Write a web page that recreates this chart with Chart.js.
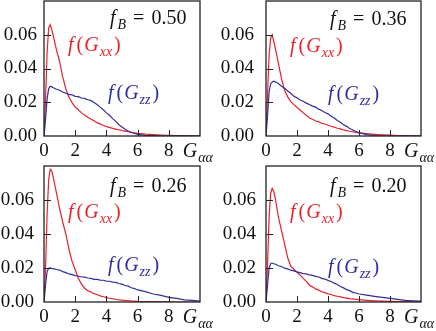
<!DOCTYPE html>
<html>
<head>
<meta charset="utf-8">
<script src="https://cdn.jsdelivr.net/npm/chart.js@4.4.1/dist/chart.umd.min.js"></script>
<style>
  html, body { margin: 0; padding: 0; background: #fff; }
  #wrap { position: relative; width: 436px; height: 331px; overflow: hidden; }
  canvas { position: absolute; }
</style>
</head>
<body>
<div id="wrap">
  <canvas id="c0" width="218" height="166" style="left:0;top:0"></canvas>
  <canvas id="c1" width="218" height="166" style="left:218px;top:0"></canvas>
  <canvas id="c2" width="218" height="166" style="left:0;top:165px"></canvas>
  <canvas id="c3" width="218" height="166" style="left:218px;top:165px"></canvas>
</div>
<script>
// G_alpha_alpha grid (shared by all panels)
const gValues = [0, 0.1, 0.2, 0.3, 0.4, 0.5, 0.6, 0.8, 1.0, 1.2, 1.4, 1.6, 1.8, 2.0, 2.2, 2.4, 2.6, 2.8, 3.0,
  3.2, 3.4, 3.6, 3.8, 4.0, 4.2, 4.4, 4.6, 4.8, 5.0, 5.2, 5.4, 5.6, 5.8, 6.0, 6.5, 7.0, 7.5, 8.0, 8.5, 9.0, 9.5, 10.0];

// f(G_xx) and f(G_zz) for each f_B
const xx50 = [0, 0.022, 0.050, 0.064, 0.066, 0.063, 0.059, 0.051, 0.044, 0.035, 0.028, 0.023, 0.0198, 0.0172,
  0.0156, 0.0137, 0.0125, 0.0111, 0.0101, 0.0091, 0.0079, 0.0072, 0.0062, 0.0056, 0.0051, 0.0045, 0.0041,
  0.0037, 0.0032, 0.0029, 0.0025, 0.0022, 0.0019, 0.0016, 0.0011, 0.0008, 0.0006, 0.0004, 0.0003, 0.0002, 0.0001, 0.0001];
const zz50 = [0, 0.010, 0.022, 0.028, 0.0295, 0.0291, 0.0286, 0.0277, 0.0271, 0.0261, 0.0253, 0.0247, 0.0244,
  0.0235, 0.0233, 0.0225, 0.0223, 0.0215, 0.0211, 0.0199, 0.0187, 0.0171, 0.0156, 0.0137, 0.0123, 0.0103,
  0.0087, 0.0067, 0.0053, 0.0040, 0.0030, 0.0022, 0.0015, 0.0010, 0.0004, 0.0002, 0.0001, 0, 0, 0, 0, 0];

const xx36 = [0, 0.025, 0.048, 0.058, 0.060, 0.056, 0.052, 0.043, 0.034, 0.027, 0.0232, 0.0204, 0.0186, 0.0169,
  0.0154, 0.0137, 0.0123, 0.0107, 0.0099, 0.0089, 0.0084, 0.0075, 0.0071, 0.0064, 0.0058, 0.0053, 0.0046,
  0.0042, 0.0036, 0.0032, 0.0028, 0.0025, 0.0022, 0.0019, 0.0014, 0.0010, 0.0007, 0.0005, 0.0003, 0.0002, 0.0001, 0.0001];
const zz36 = [0, 0.012, 0.026, 0.031, 0.032, 0.0325, 0.0321, 0.0311, 0.0294, 0.0283, 0.0267, 0.0253, 0.0235,
  0.0226, 0.0213, 0.0206, 0.0195, 0.0187, 0.0177, 0.0171, 0.0159, 0.0151, 0.0139, 0.0131, 0.0117, 0.0107,
  0.0092, 0.0081, 0.0067, 0.0057, 0.0044, 0.0036, 0.0027, 0.0020, 0.0008, 0.0003, 0.0001, 0, 0, 0, 0, 0];

const xx26 = [0, 0.020, 0.052, 0.072, 0.078, 0.077, 0.073, 0.064, 0.055, 0.047, 0.040, 0.031, 0.024, 0.019,
  0.014, 0.0105, 0.0081, 0.0067, 0.0059, 0.0049, 0.0044, 0.0036, 0.0031, 0.0026, 0.0022, 0.0019, 0.0016,
  0.0013, 0.0011, 0.0009, 0.0008, 0.0006, 0.0005, 0.0004, 0.0003, 0.0002, 0.0001, 0.0001, 0, 0, 0, 0];
const zz26 = [0, 0.010, 0.018, 0.0198, 0.0201, 0.0197, 0.0196, 0.0191, 0.0188, 0.0179, 0.0173, 0.0165, 0.0161,
  0.0155, 0.0153, 0.0147, 0.0146, 0.0141, 0.0139, 0.0133, 0.0133, 0.0129, 0.0128, 0.0123, 0.0122, 0.0117,
  0.0115, 0.0109, 0.0105, 0.0097, 0.0093, 0.0084, 0.0079, 0.0071, 0.0061, 0.0047, 0.0039, 0.0027, 0.0021,
  0.0013, 0.0009, 0.0006];

const xx20 = [0, 0.022, 0.050, 0.064, 0.0668, 0.065, 0.061, 0.050, 0.042, 0.034, 0.026, 0.021, 0.0193, 0.0175,
  0.0159, 0.0139, 0.0121, 0.0099, 0.0089, 0.0077, 0.0070, 0.0060, 0.0055, 0.0048, 0.0044, 0.0037, 0.0034,
  0.0030, 0.0026, 0.0023, 0.0020, 0.0018, 0.0016, 0.0014, 0.0010, 0.0007, 0.0005, 0.0004, 0.0003, 0.0002, 0.0001, 0.0001];
const zz20 = [0, 0.010, 0.020, 0.0225, 0.0229, 0.0225, 0.0223, 0.0213, 0.0209, 0.0199, 0.0195, 0.0187, 0.0183,
  0.0177, 0.0173, 0.0167, 0.0165, 0.0159, 0.0157, 0.0151, 0.0147, 0.0139, 0.0135, 0.0127, 0.0121, 0.0111,
  0.0103, 0.0091, 0.0083, 0.0073, 0.0067, 0.0057, 0.0053, 0.0047, 0.0040, 0.0033, 0.0027, 0.0021, 0.0015,
  0.0010, 0.0007, 0.0005];

// tick labels and panel titles
const xTickValues = [0, 2, 4, 6, 8];
const yTickValues = [0, 0.02, 0.04, 0.06];
const fBLabels = ['0.50', '0.36', '0.26', '0.20'];

const RED = '#e8212b';
const BLUE = '#2e2e9c';
const FONT = '"Liberation Serif", "DejaVu Serif", serif';
const SIZE = 19;
const MATH = 20;
const SUB = 14;

// layout of each panel: axis sizes and label anchors (in data units)
const panels = [
  { id: 'c0', xx: xx50, zz: zz50, yW: 44, xH: 30, padR: 18, tickPad: 7,
    fB: [4.23, 0.0663], lxx: [1.54, 0.0506], lzz: [4.1, 0.0218] },
  { id: 'c1', xx: xx36, zz: zz36, yW: 48, xH: 30, padR: 15, tickPad: 12,
    fB: [4.13, 0.0659], lxx: [1.55, 0.0496], lzz: [4.0, 0.0212] },
  { id: 'c2', xx: xx26, zz: zz26, yW: 44, xH: 29, padR: 18, tickPad: 10,
    fB: [4.23, 0.0649], lxx: [1.54, 0.0494], lzz: [4.1, 0.0182] },
  { id: 'c3', xx: xx20, zz: zz20, yW: 48, xH: 29, padR: 15, tickPad: 10,
    fB: [4.13, 0.0649], lxx: [1.55, 0.0494], lzz: [4.0, 0.0171] }
];

// draw italic / subscript pieces one after another
function drawMath(ctx, x, y, parts, color, size) {
  ctx.save();
  ctx.fillStyle = color;
  ctx.textBaseline = 'alphabetic';
  ctx.textAlign = 'left';
  let cx = x;
  parts.forEach(p => {
    const s = p.sub ? SUB : size;
    ctx.font = (p.it ? 'italic ' : '') + s + 'px ' + FONT;
    ctx.fillText(p.t, cx, y + (p.sub ? 5 : 0));
    cx += ctx.measureText(p.t).width + (p.gap || 0);
  });
  ctx.restore();
}

const framePlugin = {
  id: 'frame',
  afterDraw(chart, args, opts) {
    const { ctx, chartArea: a, scales: { x, y } } = chart;
    ctx.save();
    ctx.strokeStyle = '#222';
    ctx.lineWidth = 1.3;
    ctx.strokeRect(a.left, a.top, a.right - a.left, a.bottom - a.top);
    // inward tick marks
    ctx.beginPath();
    xTickValues.slice(1).forEach(v => {
      const px = Math.round(x.getPixelForValue(v)) + 0.5;
      ctx.moveTo(px, a.bottom);
      ctx.lineTo(px, a.bottom - 6);
    });
    yTickValues.slice(1).forEach(v => {
      const py = Math.round(y.getPixelForValue(v)) + 0.5;
      ctx.moveTo(a.left, py);
      ctx.lineTo(a.left + 7, py);
    });
    ctx.lineWidth = 1;
    ctx.stroke();
    ctx.restore();

    const p = opts.panel;
    drawMath(ctx, x.getPixelForValue(p.fB[0]), y.getPixelForValue(p.fB[1]), [
      { t: 'f', it: true, gap: 2 }, { t: 'B', it: true, sub: true, gap: 7 },
      { t: '=', gap: 7 }, { t: p.label }
    ], '#111', MATH);
    drawMath(ctx, x.getPixelForValue(p.lxx[0]), y.getPixelForValue(p.lxx[1]), [
      { t: 'f', it: true, gap: 3 }, { t: '(', gap: 1 }, { t: 'G', it: true, gap: 1 },
      { t: 'xx', it: true, sub: true, gap: 2 }, { t: ')' }
    ], RED, MATH);
    drawMath(ctx, x.getPixelForValue(p.lzz[0]), y.getPixelForValue(p.lzz[1]), [
      { t: 'f', it: true, gap: 3 }, { t: '(', gap: 1 }, { t: 'G', it: true, gap: 1 },
      { t: 'zz', it: true, sub: true, gap: 2 }, { t: ')' }
    ], BLUE, MATH);
    // axis name next to the last x tick
    drawMath(ctx, x.getPixelForValue(8) + 14, a.bottom + 21, [
      { t: 'G', it: true, gap: 1 }, { t: 'αα', it: true, sub: true }
    ], '#111', MATH);
  }
};

panels.forEach((p, i) => {
  p.label = fBLabels[i];
  new Chart(document.getElementById(p.id), {
    type: 'line',
    data: {
      labels: gValues,
      datasets: [
        { data: p.zz, borderColor: BLUE, borderWidth: 1.2 },
        { data: p.xx, borderColor: RED, borderWidth: 1.2 }
      ]
    },
    options: {
      responsive: false,
      animation: false,
      events: [],
      elements: { point: { radius: 0 }, line: { tension: 0 } },
      layout: { padding: { top: 1, right: p.padR, left: 0, bottom: 0 } },
      plugins: { legend: { display: false }, tooltip: { enabled: false }, frame: { panel: p } },
      scales: {
        x: {
          type: 'linear', min: 0, max: 10,
          grid: { display: false, drawTicks: false },
          border: { display: false },
          afterBuildTicks: s => { s.ticks = xTickValues.map(v => ({ value: v })); },
          afterFit: s => { s.height = p.xH; s.paddingLeft = 0; s.paddingRight = 0; },
          ticks: { padding: 4, color: '#111', font: { family: FONT, size: SIZE }, maxRotation: 0,
            callback: v => String(v) }
        },
        y: {
          min: 0, max: 0.08,
          grid: { display: false, drawTicks: false },
          border: { display: false },
          afterBuildTicks: s => { s.ticks = yTickValues.map(v => ({ value: v })); },
          afterFit: s => { s.width = p.yW; s.paddingTop = 0; s.paddingBottom = 0; },
          ticks: { padding: p.tickPad, color: '#111', font: { family: FONT, size: SIZE },
            callback: v => v.toFixed(2) }
        }
      }
    },
    plugins: [framePlugin]
  });
});
</script>
</body>
</html>
